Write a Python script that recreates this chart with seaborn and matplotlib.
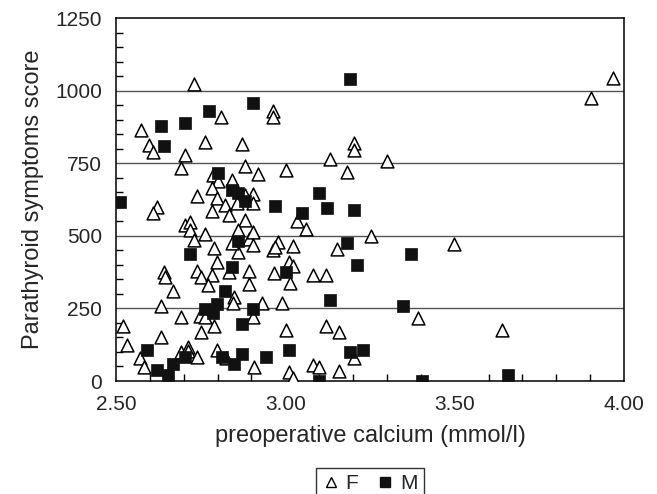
import numpy as np
import pandas as pd
import matplotlib
matplotlib.use("Agg")
import matplotlib.pyplot as plt
from matplotlib.ticker import MultipleLocator, FormatStrFormatter
from matplotlib.lines import Line2D
import seaborn as sns

# female patients (open triangles): preoperative calcium, symptom score
f_calcium = [2.729, 3.967, 3.903, 2.811, 2.965, 2.965, 2.573, 2.598, 2.610, 2.764,
             2.872, 3.203, 3.203, 2.704, 2.691, 3.132, 3.299, 2.882, 2.920, 3.002,
             3.181, 2.787, 2.800, 2.843, 2.784, 2.740, 2.799, 2.822, 2.881, 2.856,
             2.905, 2.905, 2.620, 2.610, 2.784, 2.834, 2.881, 3.034, 3.061, 3.252,
             3.499, 2.704, 2.719, 2.719, 2.763, 2.730, 2.789, 2.861, 2.861, 2.842,
             2.894, 2.905, 2.904, 2.964, 2.979, 2.969, 3.022, 3.153, 2.799, 2.834,
             2.893, 2.967, 2.642, 2.645, 2.740, 2.750, 2.784, 2.773, 2.893, 2.669,
             2.848, 2.845, 2.632, 2.932, 2.989, 3.012, 3.024, 3.014, 3.083, 3.120,
             2.748, 2.763, 2.904, 2.691, 2.522, 2.533, 2.632, 2.750, 2.789, 3.393,
             3.002, 3.120, 3.159, 3.641, 2.571, 2.583, 2.691, 2.714, 2.714, 2.740,
             2.799, 2.825, 2.908, 3.203, 3.083, 3.100, 3.159, 3.012, 3.024]
f_score = [1024, 1043, 974, 910, 931, 910, 866, 814, 789, 822,
           815, 821, 795, 777, 732, 764, 759, 740, 713, 727,
           721, 709, 690, 692, 664, 637, 629, 606, 640, 614,
           644, 614, 600, 577, 586, 572, 554, 552, 522, 499,
           471, 537, 549, 520, 505, 486, 457, 520, 445, 476,
           488, 514, 468, 451, 480, 462, 466, 453, 411, 376,
           380, 373, 376, 359, 380, 357, 365, 331, 334, 311,
           290, 268, 258, 270, 270, 411, 396, 338, 365, 365,
           224, 221, 219, 219, 189, 124, 153, 170, 189, 216,
           176, 189, 170, 176, 78, 49, 101, 118, 104, 84,
           107, 80, 49, 78, 55, 49, 36, 30, 9]

# male patients (filled squares)
m_calcium = [3.191, 2.905, 2.775, 2.703, 2.632, 2.643, 2.800, 2.843, 2.861, 2.881,
             2.512, 2.969, 3.100, 3.050, 3.122, 3.203, 3.181, 2.861, 2.719, 3.371,
             3.213, 2.843, 3.001, 2.822, 3.132, 3.348, 2.763, 2.799, 2.787, 2.904,
             2.871, 2.592, 2.620, 2.654, 2.669, 2.704, 2.812, 2.848, 2.871, 2.942,
             3.011, 3.191, 3.230, 3.100, 3.403, 3.657]
m_score = [1039, 956, 931, 887, 879, 810, 715, 658, 646, 621,
           617, 603, 646, 577, 595, 589, 476, 483, 437, 437,
           399, 394, 375, 311, 279, 258, 247, 265, 233, 247,
           196, 107, 38, 21, 57, 84, 84, 57, 93, 84,
           107, 101, 107, 0, 0, 21]

y_ticks = [0, 250, 500, 750, 1000, 1250]
x_ticks = [2.50, 3.00, 3.50, 4.00]

df_f = pd.DataFrame({"calcium": f_calcium, "score": f_score, "sex": "F"})
df_m = pd.DataFrame({"calcium": m_calcium, "score": m_score, "sex": "M"})

sns.set_style("white")
plt.rcParams["font.family"] = ["Liberation Sans", "DejaVu Sans"]

fig = plt.figure(figsize=(6.57, 4.94), dpi=100)
ax = fig.add_axes([116 / 657, 1 - 381 / 494, 508 / 657, 363 / 494])

# gridlines behind the points
for yv in y_ticks[1:-1]:
    ax.axhline(yv, color="#555555", lw=1.0, zorder=1)

sns.scatterplot(data=df_f, x="calcium", y="score", marker="^", s=85,
                facecolor="white", edgecolor="black", linewidth=1.1,
                ax=ax, zorder=3, legend=False)
sns.scatterplot(data=df_m, x="calcium", y="score", marker="s", s=72,
                color="#111111", edgecolor="#111111", linewidth=0.5,
                ax=ax, zorder=4, legend=False)

ax.set_xlim(2.5, 4.0)
ax.set_ylim(0, 1250)
ax.set_xticks(x_ticks)
ax.set_yticks(y_ticks)
ax.xaxis.set_major_formatter(FormatStrFormatter("%.2f"))
ax.xaxis.set_minor_locator(MultipleLocator(0.1))
ax.yaxis.set_minor_locator(MultipleLocator(50))
ax.tick_params(which="major", direction="out", length=7, width=1,
               labelsize=15, color="black", pad=3)
ax.tick_params(which="minor", direction="in", length=5, width=1, color="black",
               bottom=True, left=True)
for sp in ax.spines.values():
    sp.set_color("black")
    sp.set_linewidth(1.1)

ax.set_xlabel("preoperative calcium (mmol/l)", fontsize=17, labelpad=8)
ax.set_ylabel("Parathyroid symptoms score", fontsize=17, labelpad=8)

handles = [
    Line2D([], [], marker="^", linestyle="none", markersize=7,
           markerfacecolor="white", markeredgecolor="black", markeredgewidth=1.0),
    Line2D([], [], marker="s", linestyle="none", markersize=7,
           markerfacecolor="#111111", markeredgecolor="#111111"),
]
leg = fig.legend(handles, ["F", "M"], loc="upper center",
                 bbox_to_anchor=(370 / 657, 1 - 468 / 494), ncol=2,
                 frameon=True, fancybox=False, edgecolor="black", fontsize=15,
                 handlelength=0.8, handletextpad=0.3, columnspacing=0.9,
                 borderpad=0.3, borderaxespad=0)
leg.get_frame().set_linewidth(1.0)

fig.savefig("out.png", dpi=100)
